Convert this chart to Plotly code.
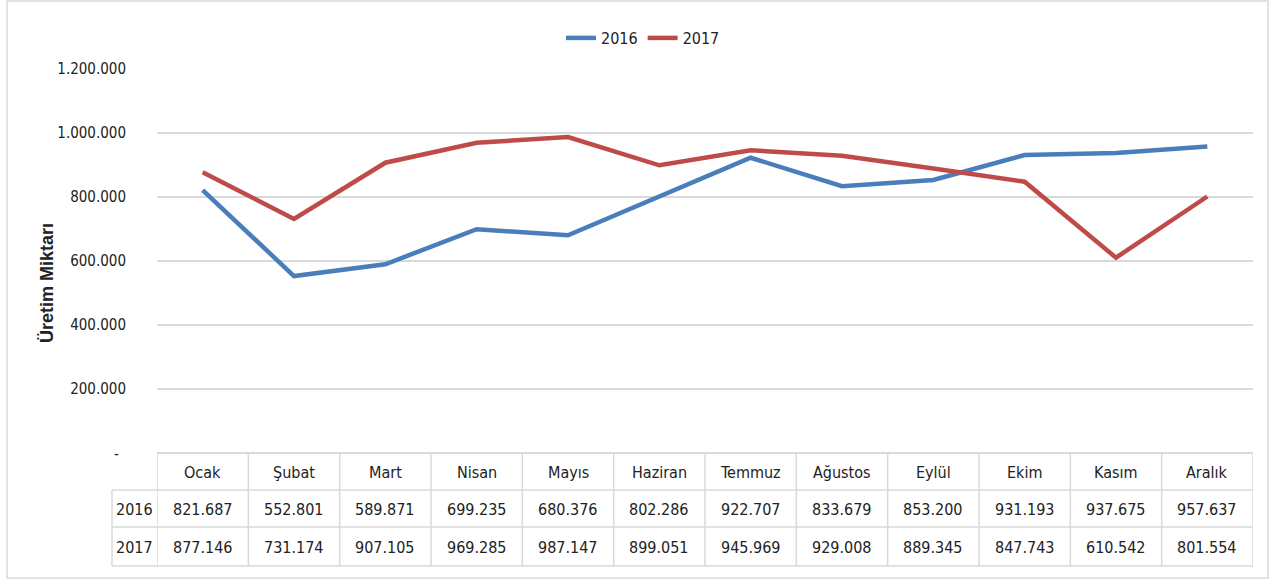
import plotly.graph_objects as go

months = ["Ocak", "Şubat", "Mart", "Nisan", "Mayıs", "Haziran", "Temmuz",
          "Ağustos", "Eylül", "Ekim", "Kasım", "Aralık"]
v2016 = [821687, 552801, 589871, 699235, 680376, 802286, 922707,
         833679, 853200, 931193, 937675, 957637]
v2017 = [877146, 731174, 907105, 969285, 987147, 899051, 945969,
         929008, 889345, 847743, 610542, 801554]
series_names = ["2016", "2017"]
tick_vals = [0, 200000, 400000, 600000, 800000, 1000000, 1200000]
tick_text = ["", "200.000", "400.000", "600.000", "800.000", "1.000.000", "1.200.000"]

FONT = "DejaVu Sans Condensed, Roboto Condensed, Roboto, sans-serif"
BLUE = "#4A7EBB"
RED = "#BE4B48"
GRID = "#D9D9D9"

W, H = 1277, 580
L, R, T, B = 157, 24, 69, 127
pw = W - L - R
ph = H - T - B

def px_x(px):
    return (px - L) / pw

def px_y(py):
    return (H - B - py) / ph

def fmt(v):
    return f"{v:,}".replace(",", ".")

fig = go.Figure()
x = list(range(len(months)))
for name, vals, col in [(series_names[0], v2016, BLUE), (series_names[1], v2017, RED)]:
    fig.add_trace(go.Scatter(x=x, y=vals, name=name, mode="lines",
                             line=dict(color=col, width=4.5)))

shapes = []
ann = []
line_style = dict(color=GRID, width=1.5)
for py in [490, 527, 566]:
    shapes.append(dict(type="line", xref="paper", yref="paper",
                       x0=px_x(112), x1=1, y0=px_y(py), y1=px_y(py), line=line_style))
shapes.append(dict(type="line", xref="paper", yref="paper", x0=px_x(112), x1=px_x(112),
                   y0=px_y(490), y1=px_y(566), line=line_style))
for i in range(len(months) + 1):
    shapes.append(dict(type="line", xref="x", yref="paper", x0=i - 0.5, x1=i - 0.5,
                       y0=0, y1=px_y(566), line=line_style))
shapes.append(dict(type="rect", xref="paper", yref="paper", x0=px_x(7), x1=px_x(1268),
                   y0=px_y(578), y1=px_y(1), line=dict(color="#D9D9D9", width=1.5)))
shapes.append(dict(type="line", xref="paper", yref="paper", x0=0, x1=1, y0=0, y1=0,
                   line=dict(color=GRID, width=2)))

tfont = dict(family=FONT, size=16, color="#222")
def add_text(xv, yv, text, xref, font):
    ann.append(dict(x=xv, y=yv, xref=xref, yref="paper", text=text, showarrow=False,
                    xanchor="center", yanchor="middle", font=font))

for i, m in enumerate(months):
    add_text(i, px_y(472), m, "x", tfont)
    add_text(i, px_y(509), fmt(v2016[i]), "x", tfont)
    add_text(i, px_y(547), fmt(v2017[i]), "x", tfont)
add_text(px_x(134), px_y(509), series_names[0], "paper", tfont)
add_text(px_x(134), px_y(547), series_names[1], "paper", tfont)
add_text(px_x(116), px_y(454), "-", "paper", dict(family=FONT, size=15, color="#222"))
ann.append(dict(x=px_x(47), y=px_y(283), xref="paper", yref="paper", text="<b>Üretim Miktarı</b>",
                textangle=-90, showarrow=False, xanchor="center", yanchor="middle",
                font=dict(family="Liberation Sans, Arial, sans-serif", size=18, color="#222")))

fig.update_layout(
    width=W, height=H,
    margin=dict(l=L, r=R, t=T, b=B, autoexpand=False),
    paper_bgcolor="white", plot_bgcolor="white",
    font=dict(family=FONT, size=15, color="#222"),
    showlegend=True,
    legend=dict(orientation="h", x=px_x(643), xanchor="center", y=px_y(38), yanchor="middle",
                font=dict(family=FONT, size=16, color="#222"), itemwidth=30),
    xaxis=dict(range=[-0.5, len(months) - 0.5], showticklabels=False, showgrid=False,
               zeroline=False, showline=False, fixedrange=True),
    yaxis=dict(range=[0, 1200000], tickvals=tick_vals, ticktext=tick_text,
               showgrid=True, gridcolor=GRID, gridwidth=2, zeroline=False,
               showline=False, ticks="", ticklabelstandoff=30,
               tickfont=dict(family=FONT, size=15, color="#222")),
    shapes=shapes, annotations=ann,
)

fig.write_html("out.html", config={"displayModeBar": False},
               post_script="document.body.style.margin='0';")
